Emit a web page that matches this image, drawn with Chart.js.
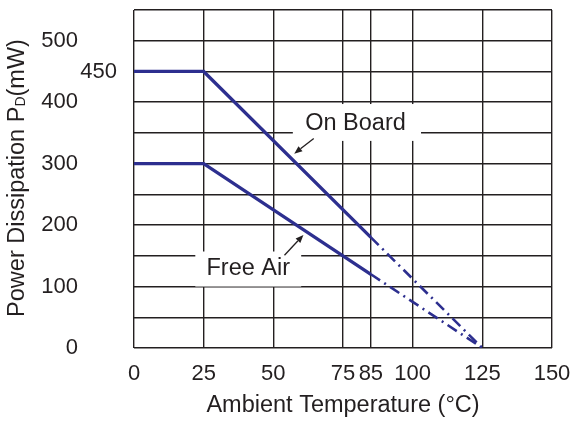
<!DOCTYPE html>
<html><head><meta charset="utf-8">
<script src="https://cdn.jsdelivr.net/npm/chart.js@4.4.0/dist/chart.umd.min.js"></script>
<style>html,body{margin:0;padding:0;background:#fff;}#wrap{width:574px;height:421px;position:relative;}</style>
</head><body><div id="wrap"><canvas id="c"></canvas></div>
<script>
const temps = [0, 25, 85, 125];
const onBoard = [450, 450, 180, 0];
const freeAir = [300, 300, 120, 0];
const xTicks = [0, 25, 50, 75, 85, 100, 125, 150];
const yLabels = [0, 100, 200, 300, 400, 500];
const yMarked = [450];
const seriesNames = ['On Board', 'Free Air'];
const xTitle = 'Ambient Temperature (°C)';
const yTitleParts = ['Power Dissipation P', 'D', '(mW)'];

const FONT = '"Liberation Sans", Arial, Helvetica, sans-serif';
const INK = '#231f20';
const BLUE = '#2d2f8f';
const DASHDOT = [11, 5, 2, 5];

function pts(ys){ return temps.map((t,i)=>({x:t, y:ys[i]})); }

const annotations = [
  {text: seriesNames[0], box:[57,103,397,337], tx:79.5, ty:366, from:[64.5,341], to:[57.5,316]},
  {text: seriesNames[1], box:[22,60,157,100], tx:41,   ty:130, from:[54,151], to:[60.8,184]}
];

const overlayPlugin = {
  id:'overlay',
  beforeDatasetsDraw(chart){
    const {ctx, scales:{x, y}} = chart;
    ctx.save();
    ctx.fillStyle = '#fff';
    annotations.forEach(a=>{
      const x0 = x.getPixelForValue(a.box[0]), x1 = x.getPixelForValue(a.box[1]);
      const y0 = y.getPixelForValue(a.box[2]), y1 = y.getPixelForValue(a.box[3]);
      ctx.fillRect(x0, y0, x1-x0, y1-y0);
    });
    ctx.restore();
  },
  afterDatasetsDraw(chart){
    const {ctx, scales:{x, y}} = chart;
    ctx.save();
    ctx.fillStyle = INK; ctx.strokeStyle = INK;
    ctx.font = '23.5px ' + FONT;
    ctx.textAlign = 'center'; ctx.textBaseline = 'middle';
    annotations.forEach(a=>{
      ctx.fillText(a.text, x.getPixelForValue(a.tx), y.getPixelForValue(a.ty));
      const fx = x.getPixelForValue(a.from[0]), fy = y.getPixelForValue(a.from[1]);
      const tx = x.getPixelForValue(a.to[0]), ty = y.getPixelForValue(a.to[1]);
      const ang = Math.atan2(ty-fy, tx-fx);
      const hl = 8, hw = 3.2;
      const bx = tx - hl*Math.cos(ang), by = ty - hl*Math.sin(ang);
      ctx.lineWidth = 1.3;
      ctx.beginPath(); ctx.moveTo(fx,fy); ctx.lineTo(bx,by); ctx.stroke();
      ctx.beginPath();
      ctx.moveTo(tx,ty);
      ctx.lineTo(bx + hw*Math.sin(ang), by - hw*Math.cos(ang));
      ctx.lineTo(bx - hw*Math.sin(ang), by + hw*Math.cos(ang));
      ctx.closePath(); ctx.fill();
    });
    // y title with subscript
    const cy = (chart.chartArea.top + chart.chartArea.bottom)/2 - 1;
    ctx.translate(18, cy);
    ctx.rotate(-Math.PI/2);
    ctx.textAlign = 'left'; ctx.textBaseline = 'middle';
    const big = '23.5px ' + FONT, small = '14px ' + FONT;
    ctx.font = big; const w0 = ctx.measureText(yTitleParts[0]).width;
    ctx.font = small; const w1 = ctx.measureText(yTitleParts[1]).width;
    ctx.font = big; const w2 = ctx.measureText(yTitleParts[2]).width;
    let sx = -(w0+w1+w2)/2;
    ctx.font = big; ctx.fillText(yTitleParts[0], sx, 0); sx += w0;
    ctx.font = small; ctx.fillText(yTitleParts[1], sx, 3); sx += w1;
    ctx.font = big; ctx.fillText(yTitleParts[2], sx, 0);
    ctx.restore();
  }
};

const gridCfg = {color: INK, lineWidth: 1.4, drawTicks: false};
function noPad(s){ s.paddingTop = 0; s.paddingBottom = 0; s.paddingLeft = 0; s.paddingRight = 0; }

new Chart(document.getElementById('c'), {
  type: 'line',
  data: {
    datasets: [
      {label: seriesNames[0], data: pts(onBoard)},
      {label: seriesNames[1], data: pts(freeAir)}
    ].map(d=>Object.assign(d, {
      borderColor: BLUE, borderWidth: 3.3, pointRadius: 0, tension: 0, fill: false,
      segment: {
        borderDash: c => c.p0DataIndex >= 2 ? DASHDOT : undefined,
        borderWidth: c => c.p0DataIndex >= 2 ? 2.6 : 3.3
      }
    }))
  },
  options: {
    responsive: true, maintainAspectRatio: false, animation: false,
    layout: {padding: {left: 41, right: 22, top: 10, bottom: 1}},
    plugins: {legend: {display: false}, tooltip: {enabled: false}},
    scales: {
      x: {
        type: 'linear', min: 0, max: 150,
        afterBuildTicks: a => { a.ticks = xTicks.map(v=>({value:v})); },
        afterFit: s => { s.height = 72; noPad(s); },
        grid: gridCfg,
        border: {display: false},
        ticks: {autoSkip: false, maxRotation: 0, padding: 13, color: INK, font: {family: FONT, size: 22}},
        title: {display: true, text: xTitle, color: INK, font: {family: FONT, size: 23.5}, padding: {top: 4, bottom: 0}}
      },
      y: {
        position: 'left', weight: 2, min: 0, max: 550,
        afterFit: s => { s.width = 39; noPad(s); },
        ticks: {stepSize: 50, padding: 2, color: INK, font: {family: FONT, size: 22},
          callback: v => yLabels.includes(v) ? String(v) : ''},
        grid: gridCfg,
        border: {display: false}
      },
      y2: {
        position: 'left', weight: 1, min: 0, max: 550,
        afterBuildTicks: a => { a.ticks = yMarked.map(v=>({value:v})); },
        afterFit: s => { s.width = 54; noPad(s); },
        ticks: {padding: 17, color: INK, font: {family: FONT, size: 22}},
        grid: {display: false, drawTicks: false},
        border: {display: false}
      }
    }
  },
  plugins: [overlayPlugin]
});
</script></body></html>
